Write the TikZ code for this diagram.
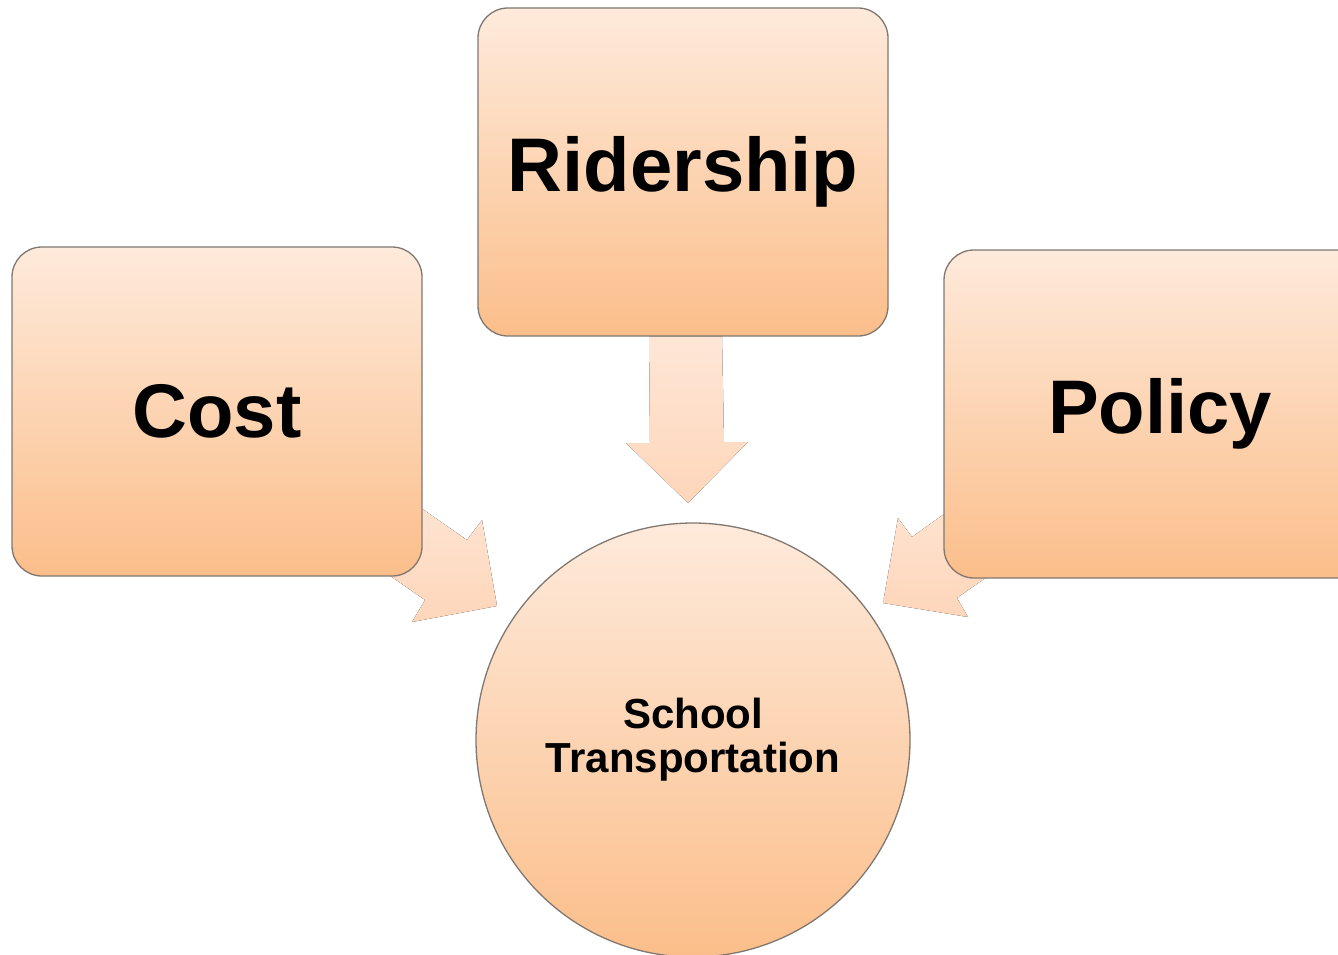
\documentclass[tikz,border=0pt]{standalone}
\usepackage{fontspec}
\setmainfont{Liberation Sans}
\usetikzlibrary{calc}
\pgfdeclarelayer{background}
\pgfsetlayers{background,main}
\definecolor{boxtop}{RGB}{254,234,219}
\definecolor{boxbot}{RGB}{251,190,138}
\definecolor{arrtop}{RGB}{254,230,214}
\definecolor{arrbot}{RGB}{254,214,186}
\definecolor{edgecol}{RGB}{128,120,112}
\tikzset{
  box/.style={draw=edgecol, line width=1.3pt, rounded corners=30pt,
    top color=boxtop, bottom color=boxbot, inner sep=0pt,
    font=\fontsize{76}{80}\selectfont\bfseries},
  hub/.style={circle, draw=edgecol, line width=1.3pt,
    top color=boxtop, bottom color=boxbot, minimum size=434pt, inner sep=0pt,
    align=center, font=\fontsize{42}{44}\selectfont\bfseries},
  fatarrow/.style={top color=arrtop, bottom color=arrbot, draw=none}
}
\begin{document}
\begin{tikzpicture}[x=1pt,y=-1pt]
\useasboundingbox (0,0) rectangle (1338,955);
\node[box, minimum width=410pt, minimum height=329pt] (cost) at (217,411.5) {Cost};
\node[box, minimum width=410pt, minimum height=328pt] (rider) at (683,172) {Ridership};
\node[box, minimum width=432pt, minimum height=328pt] (policy) at (1160,414) {Policy};
\node[hub] (hub) at (693,740) {School\\Transportation};
\begin{pgfonlayer}{background}
  % down arrow from Ridership
  \fill[fatarrow] ($(rider.south)+(-34,0)$) -- ($(rider.south)+(39,0)$) -- (724,442) -- (748,442)
    -- (688,503) -- (626,443) -- (650,443) -- cycle;
  % arrow from Cost
  \fill[fatarrow] (385,483) -- (467,540) -- (482,520) -- (497,606)
    -- (412,622) -- (425,600) -- (343,543) -- cycle;
  % arrow from Policy
  \fill[fatarrow] (993,479) -- (912,537) -- (898,518) -- (883,603)
    -- (968,617) -- (957,598) -- (1039,540) -- cycle;
\end{pgfonlayer}
\end{tikzpicture}
\end{document}
